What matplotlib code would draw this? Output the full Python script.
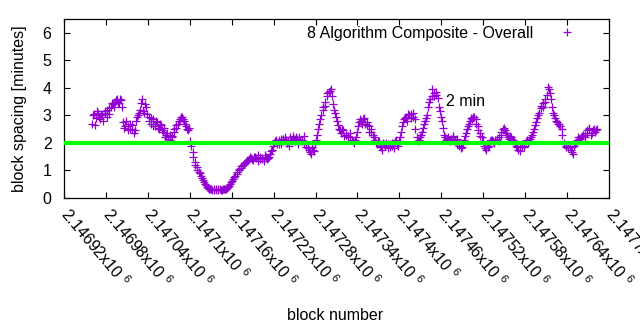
import numpy as np
import matplotlib
matplotlib.use("Agg")
import matplotlib.pyplot as plt
from matplotlib.ticker import MultipleLocator, FuncFormatter

plt.rcParams['font.family'] = ['Liberation Sans', 'DejaVu Sans']
plt.rcParams['mathtext.default'] = 'regular'

# spacing_b holds the in-between blocks (offset by 1)
first_block = 2146960
block_step = 3
spacing_a = [
    2.7, 3.05, 2.9, 3.1, 2.85, 3.0, 3.15,
    2.95, 3.25, 3.3,
    3.4, 3.5, 3.6, 3.45, 3.55,
    2.75, 2.6, 2.45, 2.7, 2.5, 2.35,
    2.8, 3.0, 3.2, 3.6, 3.1, 3.3, 2.95,
    2.7, 2.85, 2.6, 2.75, 2.5, 2.65, 2.4,
    2.2, 2.35, 2.1, 2.25, 2.4,
    2.55, 2.7, 2.85, 2.95, 2.8, 2.6, 2.45,
    2.05, 1.65, 1.3, 1.1, 0.95, 0.8, 0.65, 0.5, 0.4, 0.33,
    0.3, 0.28, 0.3, 0.27, 0.3, 0.28, 0.32, 0.3,
    0.38, 0.5, 0.62, 0.75, 0.88, 1.0, 1.08, 1.2, 1.25, 1.35,
    1.4, 1.45, 1.38, 1.5, 1.55, 1.4, 1.45, 1.35, 1.5, 1.45,
    1.6, 1.75, 2.0, 2.1, 1.95, 2.15, 2.05, 2.2, 2.0, 1.9,
    2.1, 2.25, 2.05, 2.15, 2.2, 2.1, 2.25, 1.95, 1.8, 1.65,
    1.85, 1.7, 2.1, 2.5, 2.85, 3.2, 3.35, 3.7, 3.85, 3.95,
    3.4, 3.1, 2.8, 2.5, 2.35, 2.45, 2.3, 2.2, 2.35, 2.1,
    2.0, 2.2, 2.6, 2.85, 2.7, 2.9, 2.75, 2.6, 2.5, 2.3,
    2.1, 1.95, 2.05, 1.85, 2.0, 1.9, 1.95, 1.85, 2.0, 1.8,
    2.1, 1.9, 2.2, 2.6, 2.85, 2.95, 3.05, 2.9, 3.1, 2.85,
    2.2, 2.1, 2.3, 2.55, 2.8, 3.0, 3.5, 3.7, 3.8, 3.75,
    3.65, 3.15, 2.8, 2.3, 2.1, 2.2, 2.05, 2.25, 2.1, 2.15,
    2.0, 1.8, 1.95, 2.25, 2.5, 2.7, 2.9, 2.95, 2.85, 2.6,
    2.35, 2.2, 1.9, 1.75, 1.85, 2.05, 2.1, 2.0, 2.15, 2.05,
    2.3, 2.5, 2.45, 2.3, 2.15, 2.2, 2.1, 2.0, 1.85, 1.7,
    1.9, 1.85, 2.05, 2.0, 2.15, 2.3, 2.5, 2.75, 3.0, 3.25,
    3.3, 3.5, 3.75, 3.95, 3.6, 3.1, 2.9, 2.75, 2.7, 2.5,
    2.0, 1.9, 1.8, 1.85, 1.65, 1.9, 2.0, 2.2, 2.15, 2.25,
    2.2, 2.35, 2.5, 2.3, 2.45, 2.4, 2.5,
]
spacing_b = [
    3.0, 2.65, 3.15, 2.95, 3.05, 2.8, 3.1,
    3.2, 3.05, 3.45,
    3.3, 3.55, 3.45, 3.6, 3.3,
    2.55, 2.8, 2.6, 2.5, 2.65, 2.45,
    2.95, 3.1, 3.45, 3.15, 3.4, 3.05, 2.8,
    2.9, 2.6, 2.8, 2.55, 2.7, 2.45, 2.55,
    2.3, 2.15, 2.3, 2.2, 2.5,
    2.65, 2.8, 2.95, 2.85, 2.7, 2.5, 2.55,
    1.9, 1.5, 1.2, 1.0, 0.9, 0.72, 0.58, 0.45, 0.36, 0.3,
    0.28, 0.3, 0.27, 0.3, 0.29, 0.3, 0.3, 0.34,
    0.44, 0.56, 0.68, 0.8, 0.95, 1.05, 1.15, 1.22, 1.3, 1.38,
    1.48, 1.4, 1.5, 1.45, 1.35, 1.5, 1.42, 1.55, 1.4, 1.5,
    1.7, 1.9, 2.05, 1.95, 2.1, 1.95, 2.15, 2.1, 2.05, 2.2,
    2.05, 2.15, 2.2, 1.95, 2.1, 2.05, 2.0, 1.85, 1.75, 1.6,
    1.75, 1.95, 2.3, 2.7, 3.0, 3.3, 3.5, 3.8, 3.9, 3.7,
    3.2, 2.95, 2.65, 2.45, 2.5, 2.25, 2.3, 2.25, 2.2, 2.05,
    2.1, 2.4, 2.75, 2.8, 2.85, 2.7, 2.65, 2.4, 2.4, 2.2,
    2.0, 2.05, 1.9, 1.75, 1.95, 2.0, 1.8, 1.95, 1.9, 2.05,
    1.95, 2.05, 2.4, 2.75, 2.9, 2.8, 3.0, 3.05, 2.95, 2.5,
    2.05, 2.2, 2.4, 2.7, 2.9, 3.3, 3.6, 3.95, 3.7, 3.85,
    3.3, 2.95, 2.55, 2.2, 2.15, 2.1, 2.15, 2.2, 2.05, 1.95,
    1.9, 1.85, 2.1, 2.35, 2.6, 2.8, 2.85, 2.95, 2.7, 2.45,
    2.25, 2.05, 1.8, 1.95, 1.9, 2.1, 2.05, 2.1, 2.1, 2.2,
    2.4, 2.55, 2.35, 2.2, 2.25, 2.1, 2.05, 1.9, 1.75, 1.85,
    1.95, 1.9, 2.1, 2.05, 2.2, 2.4, 2.65, 2.9, 3.1, 3.35,
    3.45, 3.6, 4.05, 3.8, 3.3, 3.0, 2.8, 2.7, 2.6, 2.3,
    1.95, 1.85, 1.9, 1.75, 1.6, 1.95, 2.1, 2.15, 2.2, 2.3,
    2.3, 2.45, 2.55, 2.35, 2.5, 2.45,
]
blocks_a = first_block + block_step * np.arange(len(spacing_a))
blocks_b = first_block + 1 + block_step * np.arange(len(spacing_b))
blocks = np.concatenate([blocks_a, blocks_b])
spacing = np.concatenate([spacing_a, spacing_b])

target_minutes = 2
series_label = "8 Algorithm Composite - Overall"
x_min, x_max = 2146920, 2147700
x_tick_step = 60

purple = '#9400d3'
green = '#00ff00'

fig = plt.figure(figsize=(6.4, 3.3), dpi=100)
ax = fig.add_axes([0.1, 0.401, 0.8516, 0.5405])

ax.plot(blocks, spacing, linestyle='none', marker='+', markersize=6,
        markeredgewidth=0.9, color=purple, label=series_label)
ax.axhline(target_minutes, color=green, linewidth=3, zorder=3)
ax.text(2147466, 3.49, "2 min", fontsize=11.5, ha='left', va='center')

ax.set_xlim(x_min, x_max)
ax.set_ylim(0, 6.5)
ax.xaxis.set_major_locator(MultipleLocator(x_tick_step))
ax.yaxis.set_major_locator(MultipleLocator(1))
ax.xaxis.set_major_formatter(FuncFormatter(lambda v, p: f"{v / 1e6:g}x10 $^{{6}}$"))

ax.tick_params(direction='in', length=4.5, width=0.8, top=True, right=True,
               labelsize=11.5)
ax.tick_params(axis='y', pad=9)
ax.tick_params(axis='x', pad=9.5)
for lab in ax.get_xticklabels():
    lab.set_rotation(-50)
    lab.set_ha('left')
    lab.set_va('center')
    lab.set_rotation_mode('anchor')
for sp in ax.spines.values():
    sp.set_linewidth(0.9)

ax.set_xlabel("block number", fontsize=11.5)
ax.set_ylabel("block spacing [minutes]", fontsize=11.5)
ax.xaxis.set_label_coords(0.497, -0.62)
ax.yaxis.set_label_coords(-0.068, 0.5)

ax.legend(loc='upper right', bbox_to_anchor=(0.973, 1.0), borderaxespad=0,
          frameon=False, markerfirst=False, handlelength=2.6,
          handletextpad=0.8, fontsize=11.5, markerscale=0.9)

fig.savefig("out.png", dpi=100)
